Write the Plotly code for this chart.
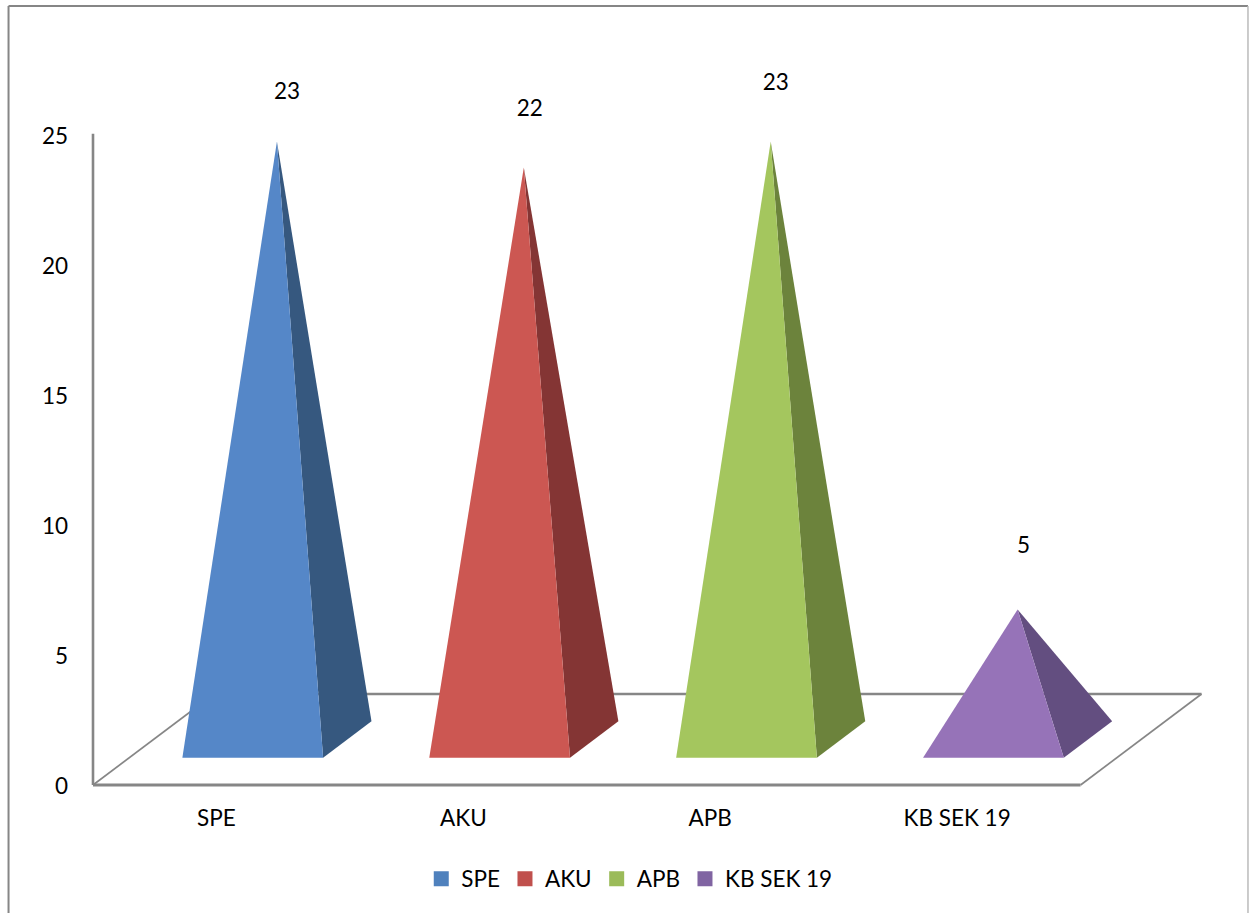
import plotly.graph_objects as go

# ---- data ----
categories = ["SPE", "AKU", "APB", "KB SEK 19"]
values = [23, 22, 23, 5]
y_ticks = [0, 5, 10, 15, 20, 25]

# ---- styles ----
legend_colors = ["#4F81BD", "#C0504D", "#9BBB59", "#8064A2"]
front_colors = ["#5587C8", "#CC5752", "#A4C65E", "#9673B8"]
side_colors = ["#36587F", "#843534", "#6C833C", "#634E80"]
AXIS = "#868686"
FONT = "Lato, 'Open Sans', sans-serif"
FS = 22.5

# ---- layout geometry (pixels of the 1249x913 page) ----
W, H = 1249, 913
UNIT_PX = 26.0        # pixels per value unit
CAT_PX = 247.0        # pixels per category
PAD = 5.0             # pixels kept round the drawing so thick lines are not clipped
Y_VALUE_MAX = 25
Y_MAX = 30            # room above the axis for the data labels
LEFT, RIGHT, BASE = 92.5, 1201, 785
X_EDGE = -0.5
L, R, B = LEFT - PAD, RIGHT + PAD, BASE + PAD
T = BASE - Y_MAX * UNIT_PX
X_RANGE = [X_EDGE - PAD / CAT_PX, X_EDGE + (RIGHT - LEFT + PAD) / CAT_PX]
Y_RANGE = [-PAD / UNIT_PX, Y_MAX]

# oblique projection of the floor depth
DEPTH_X = 0.49        # category units for full depth
DEPTH_Y = 3.5         # value units for full depth
D0, D1 = 0.30, 0.70   # depth span of a pyramid base
HALF = 0.285          # half base width, in category units
N = len(categories)


def proj(x, y, d):
    return x + d * DEPTH_X, y + d * DEPTH_Y


fig = go.Figure()


def line_trace(pts, width):
    fig.add_trace(go.Scatter(x=[p[0] for p in pts], y=[p[1] for p in pts], mode="lines",
                             line=dict(color=AXIS, width=width), showlegend=False,
                             hoverinfo="skip", cliponaxis=False))


# value axis line and floor outline
line_trace([(X_EDGE, 0), (X_EDGE, Y_VALUE_MAX + 0.05)], 2.6)
line_trace([proj(X_EDGE, 0, 0), proj(N - 0.5, 0, 0)], 2.8)
line_trace([proj(X_EDGE, 0, 1), proj(N - 0.5, 0, 1)], 2.5)
for cx in (X_EDGE, N - 0.5):
    line_trace([proj(cx, 0, 0), proj(cx, 0, 1)], 1.7)

# pyramids
for i, (name, val) in enumerate(zip(categories, values)):
    fl = proj(i - HALF, 0, D0)
    fr = proj(i + HALF, 0, D0)
    br = proj(i + HALF, 0, D1)
    ax, ay = proj(i, val, (D0 + D1) / 2)
    fig.add_trace(go.Scatter(x=[fr[0], br[0], ax, fr[0]], y=[fr[1], br[1], ay, fr[1]],
                             mode="lines", fill="toself", fillcolor=side_colors[i],
                             line=dict(width=0, color=side_colors[i]), showlegend=False,
                             hoverinfo="skip", cliponaxis=False))
    fig.add_trace(go.Scatter(x=[fl[0], fr[0], ax, fl[0]], y=[fl[1], fr[1], ay, fl[1]],
                             mode="lines", fill="toself", fillcolor=front_colors[i],
                             line=dict(width=0, color=front_colors[i]), showlegend=False,
                             hoverinfo="skip", cliponaxis=False))

# data labels, placed by hand above each apex as in the original
label_dx_px = [10, 6, 5, 6]
label_dy_px = [48, 57, 57, 62]
for i, val in enumerate(values):
    ax, ay = proj(i, val, (D0 + D1) / 2)
    fig.add_trace(go.Scatter(x=[ax + label_dx_px[i] / CAT_PX],
                             y=[ay + label_dy_px[i] / UNIT_PX],
                             mode="text", text=[str(val)], textposition="middle center",
                             textfont=dict(family=FONT, size=FS, color="#000000"),
                             showlegend=False, hoverinfo="skip", cliponaxis=False))

# legend entries
for name, col in zip(categories, legend_colors):
    fig.add_trace(go.Scatter(x=[None], y=[None], mode="markers", name=name,
                             marker=dict(symbol="square", size=15, color=col)))

# chart-area border (open at the bottom, as cropped in the original)
fx0 = (8 - L) / (R - L)
fx1 = (1248 - L) / (R - L)
ft = (B - 6) / (B - T)
fb = (B - H) / (B - T)
shapes = [
    dict(type="line", xref="paper", yref="paper", x0=fx0, x1=fx0, y0=ft, y1=fb, line=dict(color=AXIS, width=2)),
    dict(type="line", xref="paper", yref="paper", x0=fx0, x1=fx1, y0=ft, y1=ft, line=dict(color=AXIS, width=2)),
    dict(type="line", xref="paper", yref="paper", x0=fx1, x1=fx1, y0=ft, y1=fb, line=dict(color="#BBBBBB", width=1.5)),
]

fig.update_layout(
    width=W, height=H,
    margin=dict(l=L, r=W - R, t=T, b=H - B, pad=0),
    paper_bgcolor="white", plot_bgcolor="white",
    font=dict(family=FONT, size=FS, color="#000000"),
    shapes=shapes,
    showlegend=True,
    legend=dict(orientation="h", x=(629 - L) / (R - L), xanchor="center",
                y=(B - 879) / (B - T), yanchor="middle",
                font=dict(family=FONT, size=FS, color="#000000"),
                itemclick=False, itemdoubleclick=False, bgcolor="rgba(0,0,0,0)"),
    xaxis=dict(range=X_RANGE, tickmode="array", tickvals=list(range(N)), ticktext=categories,
               showgrid=False, zeroline=False, showline=False, ticks="", ticklabelstandoff=12,
               tickfont=dict(family=FONT, size=FS, color="#000000")),
    yaxis=dict(range=Y_RANGE, tickmode="array", tickvals=y_ticks, showgrid=False, zeroline=False,
               showline=False, ticks="", ticklabelstandoff=19, ticklabelshift=1,
               tickfont=dict(family=FONT, size=FS, color="#000000")),
)

fig.write_html("out.html", config=dict(displayModeBar=False),
               post_script="document.body.style.margin='0';document.documentElement.style.overflow='hidden';")
